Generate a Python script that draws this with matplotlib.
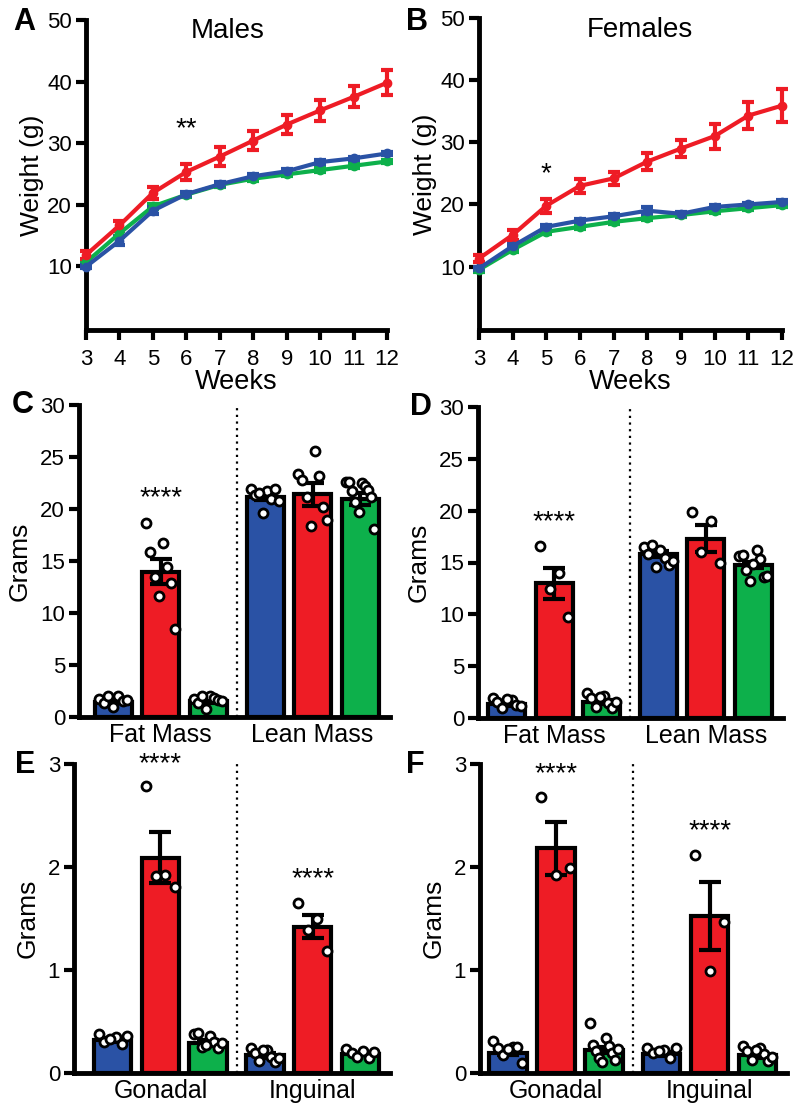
import numpy as np
import matplotlib
matplotlib.use("Agg")
import matplotlib.pyplot as plt

plt.rcParams['font.family'] = ['Liberation Sans', 'DejaVu Sans']

BLUE = '#2A52A5'
RED = '#EE1C25'
GREEN = '#0DB04B'

weeks = [3, 4, 5, 6, 7, 8, 9, 10, 11, 12]

# Panel A (males)
a_red = [11.8, 16.6, 21.9, 25.3, 27.8, 30.4, 33.0, 35.3, 37.5, 39.8]
a_red_err = [0.6, 0.7, 1.0, 1.3, 1.5, 1.6, 1.6, 1.7, 1.7, 2.0]
a_blue = [9.9, 14.1, 19.0, 21.7, 23.3, 24.6, 25.4, 26.9, 27.5, 28.3]
a_blue_err = [0.3, 0.6, 0.6, 0.3, 0.3, 0.3, 0.3, 0.3, 0.3, 0.3]
a_green = [10.6, 15.3, 19.7, 21.6, 23.2, 24.2, 24.9, 25.6, 26.3, 27.0]
a_green_err = [0.3, 0.4, 0.4, 0.3, 0.3, 0.3, 0.3, 0.3, 0.3, 0.3]

# Panel B (females)
b_red = [11.3, 15.1, 19.8, 23.0, 24.2, 26.9, 29.0, 31.0, 34.3, 35.9]
b_red_err = [0.6, 0.8, 1.1, 1.1, 1.1, 1.4, 1.4, 2.0, 2.2, 2.7]
b_blue = [9.7, 13.3, 16.4, 17.4, 18.1, 19.0, 18.5, 19.6, 20.0, 20.4]
b_blue_err = [0.3, 0.3, 0.3, 0.3, 0.3, 0.6, 0.3, 0.3, 0.3, 0.3]
b_green = [9.5, 12.7, 15.6, 16.4, 17.2, 17.8, 18.3, 18.9, 19.4, 19.9]
b_green_err = [0.3, 0.3, 0.3, 0.3, 0.3, 0.3, 0.3, 0.3, 0.3, 0.3]

# Panel C (males body composition)
c_groups = ['Fat Mass', 'Lean Mass']
c_means = [1.45, 13.95, 1.5, 21.2, 21.4, 20.95]
c_sems = [0.15, 1.2, 0.15, 0.3, 1.1, 0.6]
c_points = [
    [1.7, 2.0, 1.3, 1.5, 2.0, 1.6, 1.0],
    [18.7, 16.7, 15.9, 14.4, 13.5, 12.9, 11.6, 8.5],
    [1.7, 2.0, 1.3, 1.8, 2.0, 1.6, 0.8, 1.5],
    [21.9, 21.7, 21.3, 21.0, 21.5, 21.9, 19.6, 20.8],
    [23.4, 25.6, 22.8, 23.2, 21.2, 20.2, 18.4, 18.9],
    [22.6, 22.5, 22.6, 22.2, 21.7, 21.8, 20.7, 21.2, 19.7, 18.1],
]

# Panel D (females body composition)
d_means = [1.35, 13.0, 1.55, 15.8, 17.3, 14.75]
d_sems = [0.15, 1.5, 0.2, 0.3, 1.3, 0.3]
d_points = [
    [1.9, 1.7, 1.5, 1.3, 1.0, 1.2, 1.8],
    [16.6, 14.0, 12.4, 9.7],
    [2.4, 2.1, 1.9, 1.4, 1.1, 1.0, 2.0, 1.5],
    [16.5, 16.2, 15.8, 15.4, 16.7, 14.8, 14.6, 15.1],
    [19.9, 19.0, 16.0, 15.0],
    [15.6, 16.2, 15.7, 15.3, 14.3, 13.6, 13.25, 13.7, 14.9],
]

# Panel E (males fat depots)
e_groups = ['Gonadal', 'Inguinal']
e_means = [0.32, 2.09, 0.29, 0.17, 1.42, 0.18]
e_sems = [0.02, 0.25, 0.03, 0.02, 0.11, 0.01]
e_points = [
    [0.38, 0.35, 0.30, 0.28, 0.33, 0.36],
    [2.79, 1.92, 1.91, 1.81],
    [0.38, 0.36, 0.39, 0.30, 0.25, 0.24, 0.27, 0.29],
    [0.24, 0.22, 0.19, 0.16, 0.12, 0.11, 0.22, 0.15],
    [1.65, 1.50, 1.39, 1.18],
    [0.23, 0.21, 0.19, 0.15, 0.16, 0.20],
]

# Panel F (females fat depots)
f_means = [0.195, 2.18, 0.225, 0.185, 1.52, 0.17]
f_sems = [0.02, 0.26, 0.03, 0.02, 0.33, 0.02]
f_points = [
    [0.31, 0.25, 0.24, 0.25, 0.17, 0.10, 0.23],
    [2.68, 1.99, 1.92],
    [0.485, 0.34, 0.275, 0.26, 0.21, 0.19, 0.15, 0.13, 0.11, 0.23],
    [0.24, 0.22, 0.19, 0.15, 0.21, 0.24],
    [2.12, 1.47, 0.99],
    [0.26, 0.24, 0.21, 0.18, 0.13, 0.12, 0.22, 0.16],
]

bar_colors = [BLUE, RED, GREEN, BLUE, RED, GREEN]
bar_pos = [0, 1, 2, 3.2, 4.2, 5.2]
divider = 2.6

fig = plt.figure(figsize=(8, 11.11), dpi=100)

SPINE_LW = 3.5
TICK_FS = 16
STAR_FS = 20


def style_axes(ax):
    for s in ['top', 'right']:
        ax.spines[s].set_visible(False)
    for s in ['left', 'bottom']:
        ax.spines[s].set_linewidth(SPINE_LW)
        ax.spines[s].set_capstyle('projecting')
    ax.tick_params(axis='both', direction='out', length=7, width=3,
                   labelsize=TICK_FS, pad=3)


def px_axes(left, right, top, bottom):
    W, H = 800, 1111
    return fig.add_axes([left / W, 1 - bottom / H, (right - left) / W, (bottom - top) / H])


def line_panel(ax, red, rerr, blue, berr, green, gerr, ylim_bottom):
    for y, e, c in [(green, gerr, GREEN), (blue, berr, BLUE), (red, rerr, RED)]:
        ax.errorbar(weeks, y, yerr=e, color=c, lw=3, marker='o', ms=6,
                    capsize=4, capthick=3, elinewidth=3, clip_on=False, zorder=3)
    ax.set_xlim(3, 12)
    ax.set_ylim(ylim_bottom, 50)
    ax.set_xticks(weeks)
    ax.set_yticks([10, 20, 30, 40, 50])
    style_axes(ax)
    ax.tick_params(axis='x', pad=7)
    ax.set_ylabel('Weight (g)', fontsize=19, labelpad=2)
    ax.set_xlabel('Weeks', fontsize=19.5, labelpad=-1)


def bar_panel(ax, means, sems, points, groups, xlim, ylim, yticks, ytickfmt):
    for i, (m, s, pts) in enumerate(zip(means, sems, points)):
        x = bar_pos[i]
        ax.bar(x, m, width=0.78, color=bar_colors[i], edgecolor='black',
               linewidth=3, zorder=2)
        ax.errorbar(x, m, yerr=s, color='black', lw=3, capsize=8,
                    capthick=3, zorder=3)
        n = len(pts)
        offs = np.linspace(-0.3, 0.3, n) if n > 1 else np.array([0.0])
        order = np.arange(n)
        order = np.concatenate([order[::2], order[1::2]])
        xs = x + offs[np.argsort(order)]
        ax.plot(xs, pts, 'o', ms=6.5, mfc='white', mec='black', mew=2,
                zorder=4, clip_on=False)
    ax.axvline(divider, color='black', lw=1.6, ls=(0, (1, 2)), zorder=1)
    ax.set_xlim(*xlim)
    ax.set_ylim(*ylim)
    ax.set_yticks(yticks)
    ax.set_yticklabels([ytickfmt(v) for v in yticks])
    ax.set_xticks([bar_pos[1], bar_pos[4]])
    ax.set_xticklabels(groups)
    style_axes(ax)
    ax.tick_params(axis='x', length=0, labelsize=18, pad=4)
    ax.set_ylabel('Grams', fontsize=19, labelpad=6)


# Panel A
axA = px_axes(86, 387, 20, 330)
line_panel(axA, a_red, a_red_err, a_blue, a_blue_err, a_green, a_green_err, -0.4)
axA.text(6, 32.2, '**', ha='center', va='center', fontsize=STAR_FS)
axA.text(0.47, 0.965, 'Males', transform=axA.transAxes, ha='center',
         va='center', fontsize=20)

# Panel B
axB = px_axes(479, 782, 18, 330)
line_panel(axB, b_red, b_red_err, b_blue, b_blue_err, b_green, b_green_err, -0.2)
axB.text(5, 24.8, '*', ha='center', va='center', fontsize=STAR_FS)
axB.text(0.53, 0.96, 'Females', transform=axB.transAxes, ha='center',
         va='center', fontsize=20)

# Panel C
axC = px_axes(79, 390, 405, 717)
bar_panel(axC, c_means, c_sems, c_points, c_groups, (-0.72, 5.83), (0, 30),
          [0, 5, 10, 15, 20, 25, 30], lambda v: f'{v:g}')
axC.text(1, 21.0, '****', ha='center', va='center', fontsize=STAR_FS)

# Panel D
axD = px_axes(478, 783, 407, 718)
bar_panel(axD, d_means, d_sems, d_points, c_groups, (-0.61, 5.83), (0, 30),
          [0, 5, 10, 15, 20, 25, 30], lambda v: f'{v:g}')
axD.text(1, 18.9, '****', ha='center', va='center', fontsize=STAR_FS)

# Panel E
axE = px_axes(74, 390, 764, 1073)
bar_panel(axE, e_means, e_sems, e_points, e_groups, (-0.82, 5.83), (0, 3),
          [0, 1, 2, 3], lambda v: f'{v:g}')
axE.text(1, 3.0, '****', ha='center', va='center', fontsize=STAR_FS, clip_on=False)
axE.text(4.2, 1.88, '****', ha='center', va='center', fontsize=STAR_FS)

# Panel F
axF = px_axes(480, 787, 764, 1073)
bar_panel(axF, f_means, f_sems, f_points, e_groups, (-0.58, 5.81), (0, 3),
          [0, 1, 2, 3], lambda v: f'{v:g}')
axF.text(1, 2.9, '****', ha='center', va='center', fontsize=STAR_FS)
axF.text(4.2, 2.35, '****', ha='center', va='center', fontsize=STAR_FS)

# Panel letters
for letter, x, y in [('A', 24, 22), ('B', 417, 22), ('C', 23, 405),
                     ('D', 421, 407), ('E', 25, 765), ('F', 415, 765)]:
    fig.text(x / 800, 1 - y / 1111, letter, ha='center', va='center',
             fontsize=22, fontweight='bold')

fig.savefig('out.png', dpi=100)
